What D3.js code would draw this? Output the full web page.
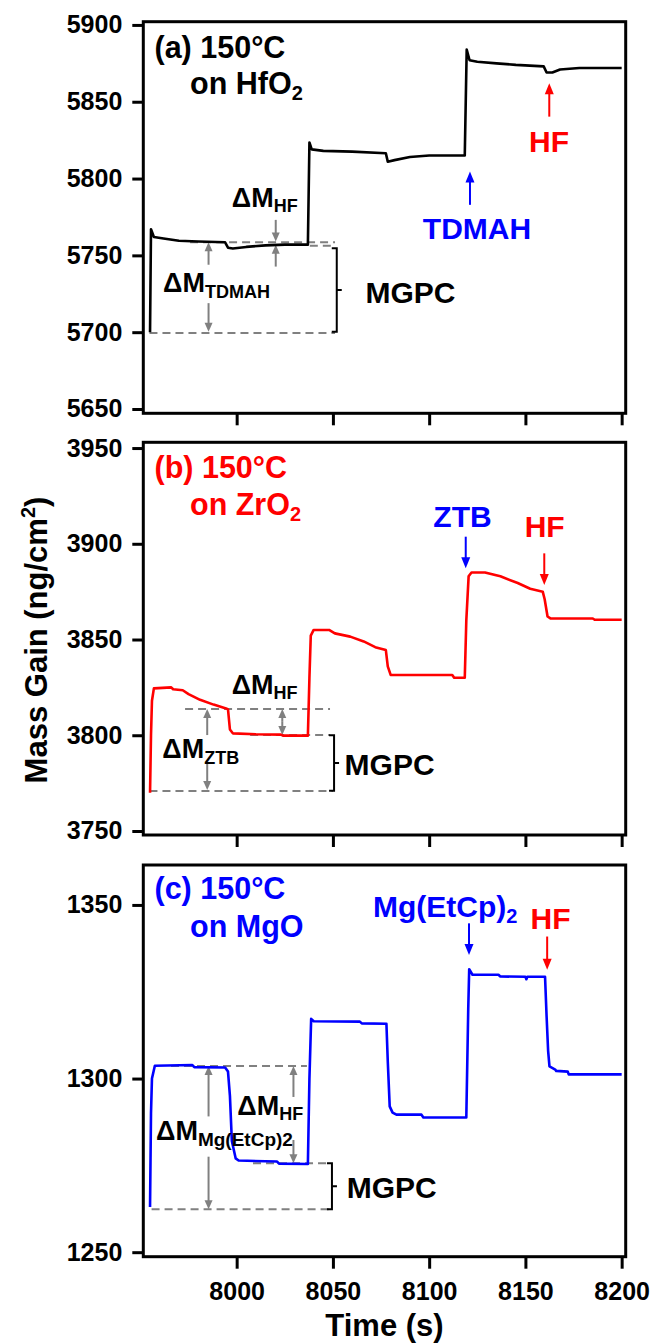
<!DOCTYPE html>
<html><head><meta charset="utf-8">
<script src="https://cdn.jsdelivr.net/npm/d3@7"></script>
<style>
body{margin:0;background:#fff}
svg text{font-family:'Liberation Sans',Arial,Helvetica,sans-serif;font-weight:bold}
</style></head>
<body><svg id="chart" width="654" height="1344"></svg>
<script>
// ---------- data ----------
const xTicks = [8000, 8050, 8100, 8150, 8200];
const yTicksA = [5650, 5700, 5750, 5800, 5850, 5900];
const yTicksB = [3750, 3800, 3850, 3900, 3950];
const yTicksC = [1250, 1300, 1350];

const timeA = [7955,7955.5,7957,7962,7970,7980,7994,7995.5,7998,8005,8015,8025,8036,8037,8037.8,8039,8045,8060,8077.5,8078.5,8082,8090,8100,8118.5,8119.5,8121,8125,8135,8145,8159.5,8161,8164,8168,8178,8200];
const massA = [5700,5767,5762,5761,5759.5,5759,5758.5,5755,5754.5,5755.5,5756.5,5757,5757,5757,5823.5,5819,5818,5817.5,5816.5,5811,5812,5814,5815,5815,5884,5877,5876,5875,5874,5873,5869,5869,5871,5872,5872];

const timeB = [7955,7955.5,7956,7957,7966,7967,7972,7975,7981,7988,7994.5,7995.5,7996.5,7998,8010,8023,8024,8037,8037.8,8038.5,8040,8048,8051,8059,8066,8072,8077.5,8078.5,8080,8112,8113,8118.5,8119.3,8120.5,8122,8129,8137,8146,8152.5,8159,8160,8161.5,8163,8185,8186,8200];
const massB = [3770,3800,3818,3824.5,3825,3824,3823.5,3821.5,3818.5,3816,3814,3813.5,3803,3801,3800.5,3800.3,3799.8,3799.8,3830,3852,3855,3855,3853.2,3851.5,3849,3846,3844.5,3836,3831.5,3831.5,3830,3830,3860,3883,3885,3885,3883,3879.5,3876.5,3875,3871,3862,3861,3861,3860.3,3860.3];

const timeC = [7955,7955.5,7956,7957.5,7977,7978,7994,7995.5,7996.5,7997.5,7999.5,8001,8021,8022,8037,8037.8,8038.7,8040,8064,8065,8077.8,8078.5,8079.5,8081,8083,8096,8097,8119.3,8120.3,8120.8,8122.5,8136,8137,8150,8150.5,8151,8160.2,8161,8161.8,8162.5,8165.5,8166,8172,8172.5,8200];
const massC = [1263,1290,1300,1303.7,1303.9,1303.3,1303.2,1302,1295,1282,1277,1276.4,1276.1,1275.5,1275.4,1300,1317.2,1316.5,1316.4,1315.9,1315.8,1305,1292,1290.2,1289.6,1289.6,1288.8,1288.8,1320,1331.5,1329.9,1329.9,1329.4,1329.3,1328.6,1329.3,1329.3,1318,1308,1303.5,1302.6,1302.2,1302,1301.2,1301.2];

// ---------- layout ----------
const svg = d3.select("#chart");
const X0 = 143.3, X1 = 625.7;
const x = d3.scaleLinear().domain([7951.5, 8202.1]).range([X0, X1]);
const GRAY = "#808080", RED = "#ff0000", BLUE = "#0000ff";

function arrow(g, xp, yTail, yHead, color, lw, hl, hw) {
  const dir = yHead > yTail ? 1 : -1;
  g.append("line").attr("x1", xp).attr("x2", xp).attr("y1", yTail).attr("y2", yHead - dir * hl * 0.7)
    .attr("stroke", color).attr("stroke-width", lw);
  g.append("path").attr("d", `M${xp},${yHead}L${xp - hw},${yHead - dir * hl}L${xp + hw},${yHead - dir * hl}Z`)
    .attr("fill", color);
}
function label(g, xp, yp, txt, color, size, anchor) {
  return g.append("text").attr("x", xp).attr("y", yp).attr("fill", color)
    .attr("font-size", size).attr("text-anchor", anchor || "start").text(txt);
}
function subLabel(g, xp, yp, main, sub, color, size, subSize, dy, anchor) {
  const t = g.append("text").attr("x", xp).attr("y", yp).attr("fill", color)
    .attr("font-size", size).attr("text-anchor", anchor || "start");
  t.append("tspan").text(main);
  t.append("tspan").attr("font-size", subSize).attr("dy", dy).text(sub);
  return t;
}

const panels = [
  { times: timeA, mass: massA, yDomain: [5647.2, 5902.1], top: 21.7, bottom: 413.3, yTicks: yTicksA, color: "#000",
    title: ["(a) 150°C", "on HfO", "2"], titleY: [58, 94.3],
    dashes: [[7975.8, 8051.1, 5758.5], [8038, 8051.1, 5756.3], [7954.7, 8051.1, 5699.5]],
    bracket: [8052, 5754.7, 5700.3],
    grayArrows: [[7985.4, 5743.9, 5758.5], [7985.4, 5718.9, 5700.3], [8020.3, 5773.1, 5759], [8020.3, 5742.7, 5756.9]],
    colorArrows: [[8121.2, 5782.9, 5804.6, BLUE], [8162.4, 5840.3, 5862, RED]]
  },
  { times: timeB, mass: massB, yDomain: [3747.9, 3953], top: 442.3, bottom: 835, yTicks: yTicksB, color: RED,
    title: ["(b) 150°C", "on ZrO", "2"], titleY: [478.3, 515],
    dashes: [[7973.2, 8048.5, 3813.7], [8007, 8048.5, 3800.1], [7954.7, 8050, 3770.9]],
    bracket: [8050.6, 3800, 3771],
    grayArrows: [[7984.7, 3800.1, 3813.7], [7984.7, 3785.5, 3771.4], [8023.7, 3807, 3813.7], [8023.7, 3807, 3800.1]],
    colorArrows: [[8119, 3903.7, 3887.2, BLUE], [8159.8, 3895, 3878.5, RED]]
  },
  { times: timeC, mass: massC, yDomain: [1248.7, 1361.5], top: 865, bottom: 1256.7, yTicks: yTicksC, color: BLUE,
    title: ["(c) 150°C", "on MgO", ""], titleY: [899.3, 936.7],
    dashes: [[7965.9, 8036.5, 1303.6], [8008.5, 8048.5, 1275.6], [7955.8, 8048.5, 1262.4]],
    bracket: [8049.5, 1275.6, 1262.4],
    grayArrows: [[7985.4, 1289.1, 1303.6], [7985.4, 1277.5, 1262.4], [8029.5, 1294.7, 1303.6], [8029.5, 1282.3, 1275.6]],
    colorArrows: [[8120.7, 1344.7, 1335.6, BLUE], [8161.3, 1340.9, 1331.3, RED]]
  }
];

panels.forEach((p, i) => {
  const g = svg.append("g");
  const y = d3.scaleLinear().domain(p.yDomain).range([p.bottom, p.top]);
  p.y = y; p.g = g;

  p.dashes.forEach(d => {
    g.append("line").attr("x1", x(d[0])).attr("x2", x(d[1])).attr("y1", y(d[2])).attr("y2", y(d[2]))
      .attr("stroke", GRAY).attr("stroke-width", 2).attr("stroke-dasharray", "8,5");
  });
  const bx = x(p.bracket[0]), bt = y(p.bracket[1]), bb = y(p.bracket[2]), bm = (bt + bb) / 2;
  g.append("path").attr("d", `M${bx - 5},${bt}H${bx}V${bb}H${bx - 5}M${bx},${bm}H${bx + 5}`)
    .attr("fill", "none").attr("stroke", "#000").attr("stroke-width", 2);
  p.grayArrows.forEach(a => arrow(g, x(a[0]), y(a[1]), y(a[2]), GRAY, 2, 9, 4));

  const line = d3.line().x((d, k) => x(p.times[k])).y(d => y(d));
  g.append("path").datum(p.mass).attr("d", line).attr("fill", "none")
    .attr("stroke", p.color).attr("stroke-width", 2.6).attr("stroke-linejoin", "round");

  p.colorArrows.forEach(a => arrow(g, x(a[0]), y(a[1]), y(a[2]), a[3], 2, 11, 4.5));

  g.append("rect").attr("x", X0).attr("y", p.top).attr("width", X1 - X0).attr("height", p.bottom - p.top)
    .attr("fill", "none").attr("stroke", "#000").attr("stroke-width", 3);

  const ya = g.append("g").attr("transform", `translate(${X0},0)`)
    .call(d3.axisLeft(y).tickValues(p.yTicks).tickSize(11).tickPadding(10).tickFormat(d3.format("d")));
  ya.select(".domain").remove();
  ya.selectAll(".tick line").attr("stroke", "#000").attr("stroke-width", 3);
  ya.selectAll(".tick text").attr("font-size", 25).attr("fill", "#000")
    .style("font-family", "'Liberation Sans',Arial,sans-serif").style("font-weight", "bold");

  const xa = g.append("g").attr("transform", `translate(0,${p.bottom})`)
    .call(d3.axisBottom(x).tickValues(xTicks).tickSize(12).tickPadding(14).tickFormat(i === 2 ? d3.format("d") : () => ""));
  xa.select(".domain").remove();
  xa.selectAll(".tick line").attr("stroke", "#000").attr("stroke-width", 3);
  xa.selectAll(".tick text").attr("font-size", 25).attr("fill", "#000")
    .style("font-family", "'Liberation Sans',Arial,sans-serif").style("font-weight", "bold");

  label(g, 154.5, p.titleY[0], p.title[0], p.color, 30.5);
  subLabel(g, 190, p.titleY[1], p.title[1], p.title[2], p.color, 30.5, 20, 6);
});

const gA = panels[0].g, gB = panels[1].g, gC = panels[2].g;
subLabel(gA, 231.8, 207.3, "ΔM", "HF", "#000", 27, 18, 5);
subLabel(gA, 163, 291.7, "ΔM", "TDMAH", "#000", 27, 18, 6);
label(gA, 365.5, 303.3, "MGPC", "#000", 30);
label(gA, 477, 239, "TDMAH", BLUE, 30, "middle");
label(gA, 549, 151.7, "HF", RED, 30, "middle");

subLabel(gB, 231.7, 694, "ΔM", "HF", "#000", 27, 18, 5);
subLabel(gB, 162.3, 758.3, "ΔM", "ZTB", "#000", 27, 18, 6);
label(gB, 344.6, 775, "MGPC", "#000", 30);
label(gB, 462.5, 526.7, "ZTB", BLUE, 30, "middle");
label(gB, 544.7, 536.7, "HF", RED, 30, "middle");

subLabel(gC, 237.3, 1115, "ΔM", "HF", "#000", 27, 18, 5);
subLabel(gC, 156, 1140, "ΔM", "Mg(EtCp)2", "#000", 27, 19, 6);
label(gC, 346.7, 1198.3, "MGPC", "#000", 30);
subLabel(gC, 373, 916.7, "Mg(EtCp)", "2", BLUE, 30, 20, 6);
label(gC, 550.6, 929.3, "HF", RED, 30, "middle");

const yt = svg.append("text").attr("transform", "translate(47,640) rotate(-90)")
  .attr("text-anchor", "middle").attr("font-size", 31).attr("fill", "#000");
yt.append("tspan").text("Mass Gain (ng/cm");
yt.append("tspan").attr("font-size", 20).attr("dy", -12).text("2");
yt.append("tspan").attr("dy", 12).text(")");
svg.append("text").attr("x", (X0 + X1) / 2).attr("y", 1336).attr("text-anchor", "middle")
  .attr("font-size", 31).attr("fill", "#000").text("Time (s)");
</script></body></html>
